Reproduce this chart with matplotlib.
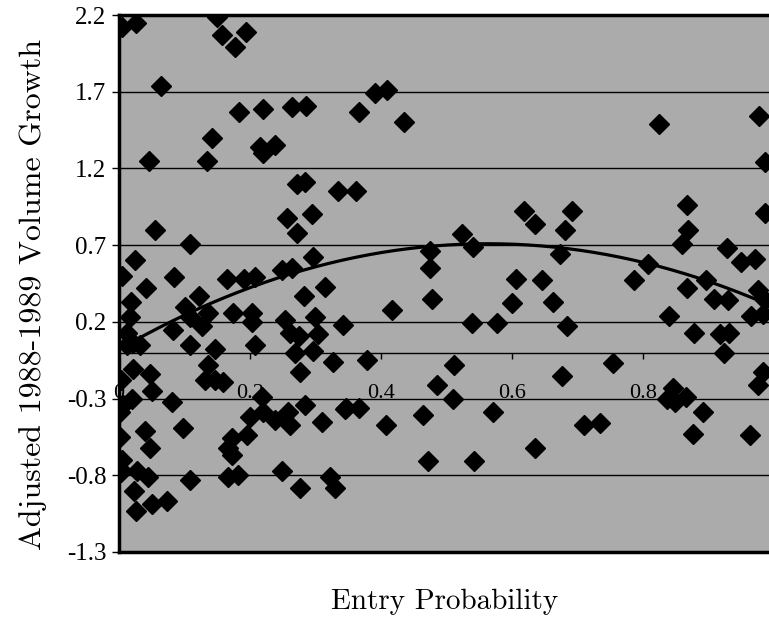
import matplotlib
matplotlib.use("Agg")
import matplotlib.pyplot as plt
import numpy as np

# ---- data ----
entry_prob = [
    0.005, 0.026, 0.150, 0.157, 0.194, 0.177, 0.064, 0.183, 0.220, 0.264,
    0.285, 0.142, 0.215, 0.220, 0.238, 0.046, 0.134, 0.272, 0.284, 0.334,
    0.391, 0.409, 0.366, 0.435, 0.362, 0.256, 0.295, 0.272, 0.055, 0.108,
    0.296, 0.024, 0.005, 0.084, 0.165, 0.191, 0.208, 0.249, 0.264, 0.041,
    0.122, 0.282, 0.315, 0.018, 0.101, 0.136, 0.108, 0.174, 0.203, 0.203,
    0.253, 0.299, 0.342, 0.017, 0.082, 0.127, 0.012, 0.021, 0.032, 0.012,
    0.108, 0.208, 0.147, 0.261, 0.275, 0.304, 0.269, 0.296, 0.327, 0.136,
    0.021, 0.047, 0.003, 0.276, 0.131, 0.147, 0.159, 0.050, 0.020, 0.006,
    0.002, 0.218, 0.081, 0.200, 0.220, 0.238, 0.258, 0.261, 0.284, 0.310,
    0.345, 0.040, 0.098, 0.173, 0.195, 0.002, 0.047, 0.166, 0.173, 0.005,
    0.000, 0.003, 0.027, 0.044, 0.108, 0.166, 0.182, 0.249, 0.322, 0.330,
    0.276, 0.023, 0.050, 0.073, 0.026, 0.618, 0.635, 0.692, 0.681, 0.524,
    0.540, 0.475, 0.673, 0.475, 0.606, 0.646, 0.478, 0.600, 0.663, 0.417,
    0.539, 0.577, 0.684, 0.379, 0.511, 0.676, 0.485, 0.510, 0.347, 0.366,
    0.408, 0.464, 0.571, 0.635, 0.472, 0.542, 0.824, 0.977, 0.986, 0.867,
    0.869, 0.860, 0.986, 0.928, 0.950, 0.971, 0.808, 0.786, 0.867, 0.896,
    0.908, 0.930, 0.976, 0.986, 0.965, 0.983, 0.840, 0.878, 0.918, 0.931,
    0.924, 0.754, 0.983, 0.976, 0.846, 0.837, 0.849, 0.866, 0.892, 0.710,
    0.734, 0.876, 0.963,
]
volume_growth = [
    2.12, 2.15, 2.19, 2.07, 2.09, 1.99, 1.74, 1.57, 1.59, 1.60,
    1.61, 1.40, 1.34, 1.30, 1.35, 1.25, 1.25, 1.10, 1.11, 1.05,
    1.69, 1.71, 1.57, 1.50, 1.05, 0.88, 0.90, 0.78, 0.80, 0.71,
    0.62, 0.60, 0.50, 0.49, 0.48, 0.48, 0.49, 0.54, 0.55, 0.42,
    0.37, 0.37, 0.43, 0.33, 0.30, 0.26, 0.23, 0.26, 0.26, 0.20,
    0.21, 0.23, 0.18, 0.23, 0.15, 0.17, 0.13, 0.06, 0.05, 0.05,
    0.05, 0.05, 0.02, 0.13, 0.11, 0.12, 0.00, 0.01, -0.06, -0.08,
    -0.11, -0.14, -0.18, -0.13, -0.18, -0.18, -0.19, -0.25, -0.30, -0.34,
    -0.39, -0.29, -0.32, -0.42, -0.39, -0.44, -0.39, -0.47, -0.34, -0.45,
    -0.37, -0.51, -0.49, -0.56, -0.54, -0.55, -0.62, -0.62, -0.67, -0.70,
    -0.75, -0.78, -0.77, -0.81, -0.83, -0.81, -0.80, -0.77, -0.81, -0.88,
    -0.88, -0.90, -0.99, -0.97, -1.03, 0.92, 0.84, 0.92, 0.80, 0.77,
    0.69, 0.66, 0.64, 0.55, 0.48, 0.47, 0.35, 0.32, 0.33, 0.28,
    0.19, 0.19, 0.17, -0.05, -0.08, -0.15, -0.21, -0.30, -0.36, -0.36,
    -0.47, -0.41, -0.39, -0.62, -0.71, -0.71, 1.49, 1.54, 1.24, 0.96,
    0.80, 0.71, 0.91, 0.68, 0.59, 0.61, 0.58, 0.47, 0.42, 0.47,
    0.35, 0.34, 0.41, 0.34, 0.24, 0.25, 0.24, 0.13, 0.12, 0.13,
    0.00, -0.07, -0.13, -0.21, -0.23, -0.30, -0.32, -0.29, -0.39, -0.47,
    -0.46, -0.53, -0.54,
]
# quadratic trend: y = c0 + c1*x + c2*x^2
trend_coef = [0.021, 2.443, -2.168]

y_ticks = [-1.3, -0.8, -0.3, 0.2, 0.7, 1.2, 1.7, 2.2]
y_tick_labels = ["-1.3", "-0.8", "-0.3", "0.2", "0.7", "1.2", "1.7", "2.2"]
x_ticks = [0, 0.2, 0.4, 0.6, 0.8]
x_tick_labels = ["0", "0.2", "0.4", "0.6", "0.8"]

x_label = "Entry Probability"
y_label = "Adjusted 1988-1989 Volume Growth"

# ---- figure ----
W, H = 769, 624
fig = plt.figure(figsize=(W / 100, H / 100), dpi=100)
ax = fig.add_axes([119 / W, 72 / H, 655 / W, 537 / H])
ax.set_facecolor("#ababab")

ymin, ymax = y_ticks[0], y_ticks[-1]
ax.set_xlim(0, 1.0)
ax.set_ylim(ymin, ymax)

# horizontal gridlines
for yv in y_ticks:
    ax.axhline(yv, color="black", lw=1.0, zorder=1)

ax.plot(entry_prob, volume_growth, linestyle="none", marker="D",
        markersize=10, color="black", zorder=3, clip_on=True)

xs = np.linspace(0, 1.0, 200)
ys = trend_coef[0] + trend_coef[1] * xs + trend_coef[2] * xs ** 2
ax.plot(xs, ys, color="black", lw=2.3, zorder=4)

tick_font = "Liberation Serif"
label_font = ["cmr10", "DejaVu Serif"]

ax.set_yticks(y_ticks)
ax.set_yticklabels(y_tick_labels, fontfamily=tick_font, fontsize=18)
ax.tick_params(axis="y", direction="out", length=5, width=1, pad=4)
ax.set_xticks([])

for s in ["left", "top", "bottom"]:
    ax.spines[s].set_linewidth(2.5)
ax.spines["right"].set_visible(False)

# x axis crossing at y = 0
loc = (0 - ymin) / (ymax - ymin)
sec = ax.secondary_xaxis(loc)
sec.set_xticks(x_ticks)
sec.set_xticklabels(x_tick_labels, fontfamily=tick_font, fontsize=16)
sec.tick_params(direction="out", length=4, width=1, pad=19)
sec.spines["bottom"].set_linewidth(1.0)

fig.text(445 / W, 1 - 602 / H, x_label, ha="center", va="center",
         fontsize=21, family=label_font)
fig.text(33 / W, 1 - 294 / H, y_label, ha="center", va="center",
         rotation=90, fontsize=23, family=label_font)

fig.savefig("out.png", dpi=100)
